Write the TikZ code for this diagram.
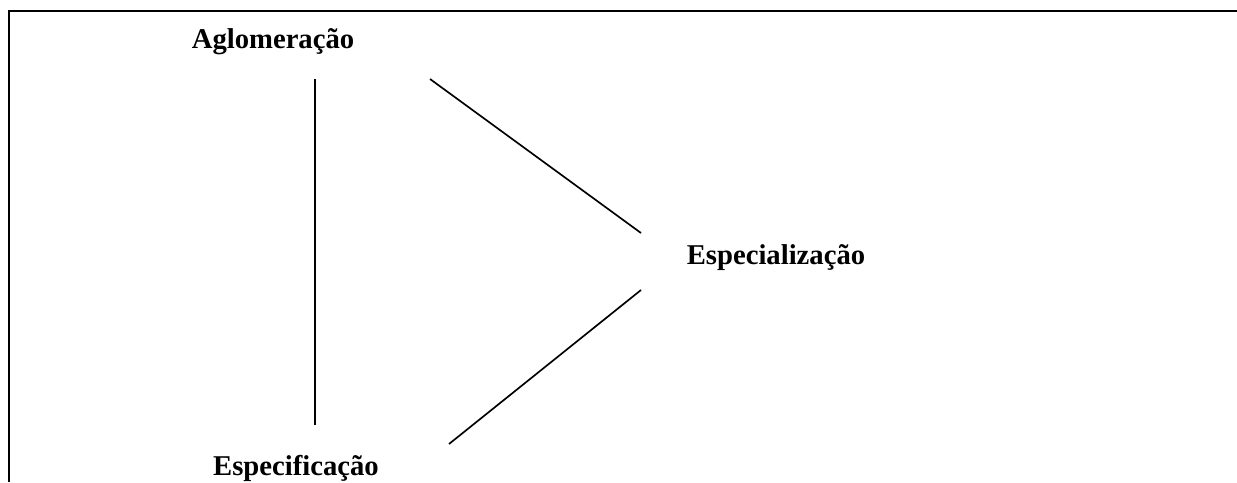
\documentclass[tikz,border=0pt]{standalone}
\usepackage{fontspec}
\setmainfont{Liberation Serif}
\usepackage{tikz}

\begin{document}
\begin{tikzpicture}[x=0.75pt,y=-0.75pt]
    \tikzstyle{every node}+=[inner sep=0pt]
    \tikzstyle{term}=[anchor=base,font=\fontsize{21.5}{25}\selectfont\bfseries]
    \tikzstyle{link}=[black,line width=1.25pt]
    \useasboundingbox (0,0) rectangle (1237,482);
    \draw [black,line width=1.6pt] (9,482) |- (1237,11);
    \node [term] (aglo) at (273,48) {Aglomeração};
    \node [term] (espz) at (776,264) {Especialização};
    \node [term] (espf) at (296,475) {Especificação};
    \coordinate (aglo-s) at (315,79);
    \coordinate (aglo-e) at (430,79);
    \coordinate (espz-nw) at (641,233);
    \coordinate (espz-sw) at (641,290);
    \coordinate (espf-n) at (315,425);
    \coordinate (espf-ne) at (449,444);
    \draw [link] (aglo-s) -- (espf-n);
    \draw [link] (aglo-e) -- (espz-nw);
    \draw [link] (espz-sw) -- (espf-ne);
\end{tikzpicture}
\end{document}
